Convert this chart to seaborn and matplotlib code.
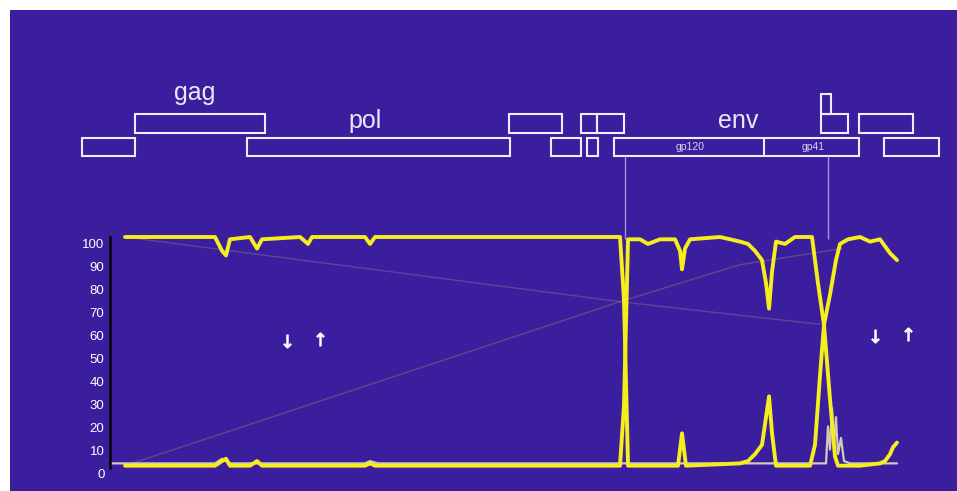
import matplotlib
matplotlib.use("Agg")
import matplotlib.pyplot as plt
import matplotlib.transforms as mtransforms
import seaborn as sns

sns.set_theme(style="white")
plt.rcParams["font.family"] = ["Liberation Sans", "DejaVu Sans"]

PURPLE = "#3b1e9d"
BOX = "#f1eefc"
YELLOW = "#f3ee1c"
GREY = "#d2c9bb"

# genome map (approximate positions along the genome, bp)
gene_names = ["5'LTR", "gag", "pol", "vif", "vpr", "tat", "rev", "vpu", "env", "tat", "rev", "nef", "3'LTR"]
gene_start = [0, 600, 1870, 4840, 5320, 5660, 5730, 5840, 6035, 8380, 8380, 8810, 9095]
gene_end = [600, 2075, 4855, 5445, 5660, 5840, 5850, 6145, 8810, 8685, 8495, 9425, 9720]
gene_track = [0, 1, 0, 1, 0, 1, 0, 1, 0, 1, 1.85, 1, 0]

label_names = ["gag", "pol", "env"]
label_pos = [1280, 3210, 7440]
label_track = [2.0, 0.81, 0.81]

env_split = 7735
domain_names = ["gp120", "gp41"]
domain_pos = [6895, 8290]

breakpoints = [6160, 8460]

# bootscan traces (% of bootstrap replicates)
pos_a = [488, 1508, 1588, 1633, 1678, 1905, 1985, 2041, 2472, 2563, 2608, 3209, 3266, 3323,
         6101, 6146, 6192, 6759, 6804, 6849, 7462, 7552, 7632, 7711, 7791, 7825, 7870,
         8256, 8312, 8369, 8414, 8482, 8550, 8596, 8686, 8823, 8936, 9049, 9106, 9163, 9242]
boot_a = [100, 100, 94, 92, 99, 100, 95, 99, 100, 97, 100, 100, 97, 100,
          100, 73, 1, 1, 15, 1, 2, 3, 6, 10, 31, 15, 1,
          1, 10, 40, 62, 75, 90, 97, 99, 100, 98, 99, 96, 93, 90]

pos_b = [488, 1508, 1588, 1633, 1678, 1905, 1985, 2041, 3209, 3266, 3323, 6101, 6146, 6192,
         6328, 6418, 6555, 6725, 6782, 6804, 6838, 6895, 7235, 7462, 7552, 7632, 7711, 7757,
         7791, 7825, 7870, 7972, 8085, 8278, 8346, 8414, 8482, 8539, 8573, 8823, 9049, 9106,
         9163, 9197, 9242]
boot_b = [1, 1, 3, 4, 1, 1, 3, 1, 1, 2, 1, 1, 27, 99,
          99, 97, 99, 99, 94, 86, 95, 99, 100, 98, 97, 94, 90, 80,
          69, 85, 98, 97, 100, 100, 80, 62, 30, 5, 1, 1, 2, 3,
          6, 9, 11]

pos_c = [318, 1508, 1588, 1678, 3209, 3266, 3357, 8437, 8460, 8482, 8505, 8528, 8550, 8573,
         8607, 8641, 8709, 9242]
boot_c = [2, 2, 4, 2, 2, 3, 2, 2, 18, 8, 26, 10, 22, 6, 13, 3, 2, 2]

pos_d = [488, 6101, 7460, 8620]
boot_d = [1, 72, 88, 95]

pos_e = [488, 6101, 8414]
boot_e = [100, 72, 62]

mark_pos = [2325, 2700, 8993, 9367]
mark_val = [55, 56, 57, 58]
mark_kind = ["down", "up", "down", "up"]

y_ticks = list(range(0, 101, 10))

W, H = 957, 491
fig = plt.figure(figsize=(W / 100, H / 100), dpi=100, facecolor="white")

# background / genome map axes, x in bp, y in track units (23.5 px per track)
bp_per_px = 11.34
x0_px = 82
bg = fig.add_axes([10 / W, 0, (W - 10) / W, (H - 10) / H])
bg.set_facecolor(PURPLE)
bg.set_xlim((10 - x0_px) * bp_per_px, (W - x0_px) * bp_per_px)
bg.set_ylim((147 - H) / 23.5, (147 - 10) / 23.5)
bg.set_xticks([])
bg.set_yticks([])
for s in bg.spines.values():
    s.set_visible(False)

heights = [0.85 if t > 1.5 else 0.8 for t in gene_track]
bg.barh(gene_track, [e - s for s, e in zip(gene_start, gene_end)], left=gene_start,
        height=heights, fill=False, edgecolor=BOX, linewidth=1.5)
env_i = gene_names.index("env")
bg.vlines(env_split, gene_track[env_i] - 0.4, gene_track[env_i] + 0.4, color=BOX, lw=1.5)
for name, p, t in zip(label_names, label_pos, label_track):
    bg.text(p, t, name, color="#ebe7f7", fontsize=18, ha="center", va="baseline")
for name, p in zip(domain_names, domain_pos):
    bg.text(p, gene_track[env_i], name, color="#d8d2f0", fontsize=7.5, ha="center", va="center")
bg.vlines(breakpoints, -3.9, -0.4, color="#a293dc", lw=1)

# bootscan plot axes: 0 -> 468 px, 100 -> 237 px
px_per_unit = 2.31
ylo, yhi = -5, 105
bot_px = 468 - ylo * px_per_unit
top_px = 468 - yhi * px_per_unit
left_px, right_px = 110, 940
ax = fig.add_axes([left_px / W, (H - bot_px) / H, (right_px - left_px) / W, (bot_px - top_px) / H])
ax.set_facecolor("none")
ax.set_xlim((left_px - x0_px) * bp_per_px, (right_px - x0_px) * bp_per_px)
ax.set_ylim(ylo, yhi)

sns.lineplot(x=pos_d, y=boot_d, ax=ax, color="#b77a62", lw=1, alpha=0.4, estimator=None)
sns.lineplot(x=pos_e, y=boot_e, ax=ax, color="#a99a9a", lw=1, alpha=0.3, estimator=None)
sns.lineplot(x=pos_c, y=boot_c, ax=ax, color=GREY, lw=1.6, estimator=None)
sns.lineplot(x=pos_b, y=boot_b, ax=ax, color=YELLOW, lw=2.8, estimator=None)
sns.lineplot(x=pos_a, y=boot_a, ax=ax, color=YELLOW, lw=2.8, estimator=None)

for p, v, k in zip(mark_pos, mark_val, mark_kind):
    m = r"$\downarrow$" if k == "down" else r"$\uparrow$"
    ax.scatter([p], [v], marker=m, s=90, color="white", edgecolors="white", linewidths=0.6)

ax.set_yticks(y_ticks)
ax.set_xticks([])
ax.tick_params(axis="y", length=0, pad=4, labelsize=9.5, labelcolor="white")
offset = mtransforms.ScaledTranslation(0, -6 / 100, fig.dpi_scale_trans)
for lab in ax.get_yticklabels():
    lab.set_transform(lab.get_transform() + offset)
for side in ["top", "right", "bottom"]:
    ax.spines[side].set_visible(False)
ax.spines["left"].set_color("black")
ax.spines["left"].set_linewidth(1.8)
ax.spines["left"].set_bounds(0, 100)
ax.set_xlabel("")
ax.set_ylabel("")

fig.savefig("out.png", dpi=100, facecolor="white")
